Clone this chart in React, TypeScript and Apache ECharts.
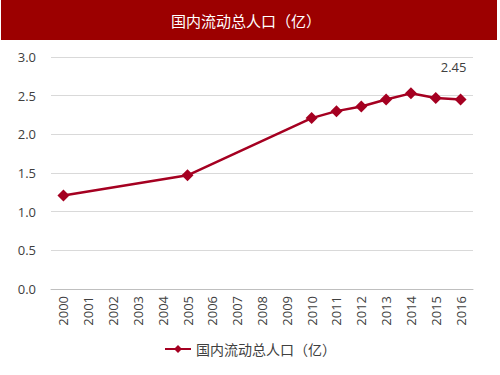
import React, { useEffect, useRef } from "react";
import * as echarts from "echarts";

const years = ["2000","2001","2002","2003","2004","2005","2006","2007","2008","2009","2010","2011","2012","2013","2014","2015","2016"];
const population: (number | null)[] = [1.21, null, null, null, null, 1.47, null, null, null, null, 2.21, 2.30, 2.36, 2.45, 2.53, 2.47, 2.45];
const yTicks = { min: 0, max: 3, interval: 0.5 };
const seriesName = "国内流动总人口（亿）";

export default function App() {
  const ref = useRef<HTMLDivElement>(null);
  useEffect(() => {
    const chart = echarts.init(ref.current!, null, { renderer: "svg" });
    const font = "'Open Sans', 'Liberation Sans', 'Noto Sans CJK SC', sans-serif";
    const data = population.map((v, i) =>
      i === population.length - 1 && v !== null
        ? { value: v, label: { show: true, position: "top", distance: 20, offset: [-7, 0], formatter: (p: any) => p.value.toFixed(2), color: "#404040", fontSize: 13, fontFamily: font } }
        : v
    );
    chart.setOption({
      animation: false,
      graphic: [
        { type: "rect", shape: { x: 1, y: 0, width: 496, height: 40 }, style: { fill: "#9C0000" } },
        { type: "text", x: 246, y: 20, style: { text: seriesName, fill: "#ffffff", fontSize: 15, fontFamily: "'Noto Sans CJK SC', sans-serif", align: "center", verticalAlign: "middle" } },
      ],
      grid: { left: 51, right: 27, top: 57, bottom: 86 },
      legend: {
        bottom: 14,
        left: "center",
        data: [seriesName],
        itemWidth: 26,
        itemHeight: 10,
        itemGap: 4,
        textStyle: { color: "#404040", fontSize: 14, fontFamily: "'Noto Sans CJK SC', sans-serif" },
      },
      xAxis: {
        type: "category",
        data: years,
        boundaryGap: true,
        axisLine: { lineStyle: { color: "#BFBFBF" } },
        axisTick: { show: false },
        axisLabel: { rotate: 90, color: "#404040", fontSize: 13, fontFamily: font, margin: 7, interval: 0 },
      },
      yAxis: {
        type: "value",
        min: yTicks.min,
        max: yTicks.max,
        interval: yTicks.interval,
        axisLine: { show: false },
        axisTick: { show: false },
        splitLine: { lineStyle: { color: "#D9D9D9" } },
        axisLabel: { color: "#404040", fontSize: 13, fontFamily: font, margin: 15, formatter: (v: number) => v.toFixed(1) },
      },
      series: [
        {
          name: seriesName,
          type: "line",
          data,
          connectNulls: true,
          symbol: "diamond",
          symbolSize: 12,
          color: "#A50021",
          lineStyle: { color: "#A50021", width: 2.5 },
          itemStyle: { color: "#A50021" },
        },
      ],
    });
    return () => chart.dispose();
  }, []);
  return <div ref={ref} style={{ position: "absolute", left: 0, top: 0, width: 500, height: 375 }} />;
}
